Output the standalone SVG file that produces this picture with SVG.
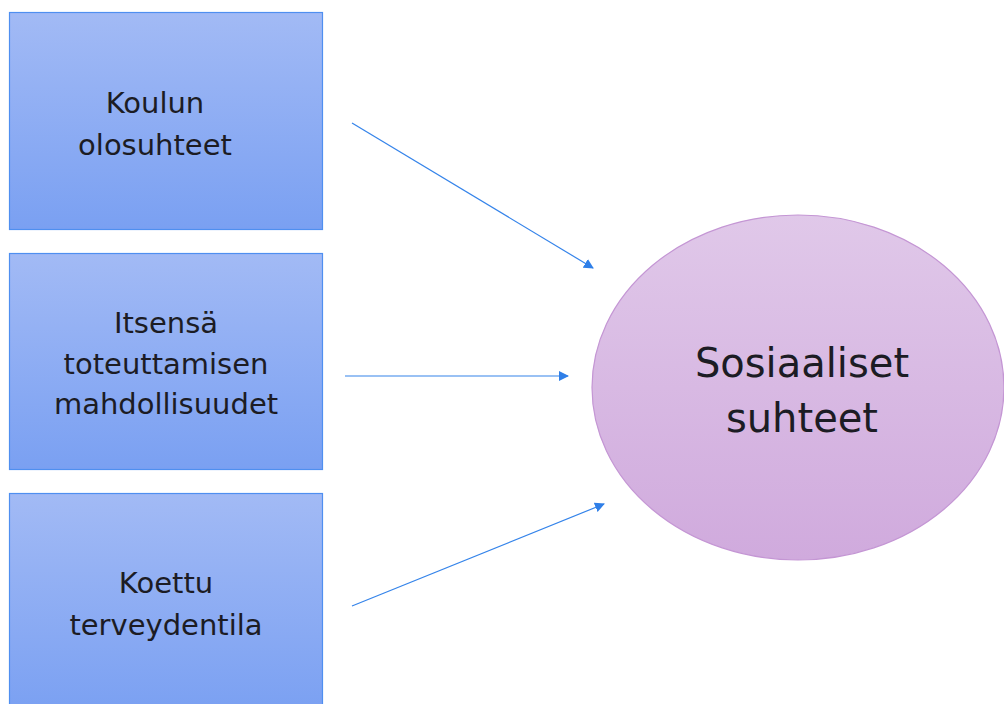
<svg xmlns="http://www.w3.org/2000/svg" width="1004" height="704" viewBox="0 0 1004 704">
<defs>
<linearGradient id="gBox" x1="0" y1="0" x2="0" y2="1">
<stop offset="0" stop-color="#a2baf5"/>
<stop offset="1" stop-color="#7aa0f2"/>
</linearGradient>
<linearGradient id="gEll" x1="0" y1="0" x2="0" y2="1">
<stop offset="0" stop-color="#e0c8e9"/>
<stop offset="1" stop-color="#d0aadd"/>
</linearGradient>
<marker id="arr" viewBox="0 0 10 10" refX="9" refY="5" markerWidth="10" markerHeight="10" markerUnits="userSpaceOnUse" orient="auto">
<path d="M0,0 L10,5 L0,10 z" fill="#2f7fe8"/>
</marker>
<style>
.box{fill:url(#gBox);stroke:#4f8ff0;stroke-width:1.2}
.t{font-family:"DejaVu Sans",sans-serif;font-size:29px;fill:#1c1c24;text-anchor:middle}
.big{font-size:40px}
.c{stroke:#3584ea;stroke-width:1.2;fill:none;marker-end:url(#arr)}
</style>
</defs>
<rect width="1004" height="704" fill="#ffffff"/>
<g id="node1">
<rect class="box" x="9.5" y="12.5" width="313" height="217"/>
<text class="t" x="155" y="113">Koulun</text>
<text class="t" x="155" y="155">olosuhteet</text>
</g>
<g id="node2">
<rect class="box" x="9.5" y="253.5" width="313" height="216"/>
<text class="t" x="166" y="333">Itsensä</text>
<text class="t" x="166" y="374">toteuttamisen</text>
<text class="t" x="166" y="414">mahdollisuudet</text>
</g>
<g id="node3">
<rect class="box" x="9.5" y="493.5" width="313" height="220"/>
<text class="t" x="166" y="593">Koettu</text>
<text class="t" x="166" y="635">terveydentila</text>
</g>
<g id="node4">
<ellipse cx="798" cy="387.5" rx="206" ry="172.5" fill="url(#gEll)" stroke="#c496d4" stroke-width="1.2"/>
<text class="t big" x="802" y="377">Sosiaaliset</text>
<text class="t big" x="802" y="432">suhteet</text>
</g>
<g id="connectors">
<line class="c" x1="352" y1="123" x2="593" y2="268"/>
<line class="c" x1="345" y1="376" x2="568" y2="376"/>
<line class="c" x1="352" y1="606" x2="604" y2="504"/>
</g>
</svg>
